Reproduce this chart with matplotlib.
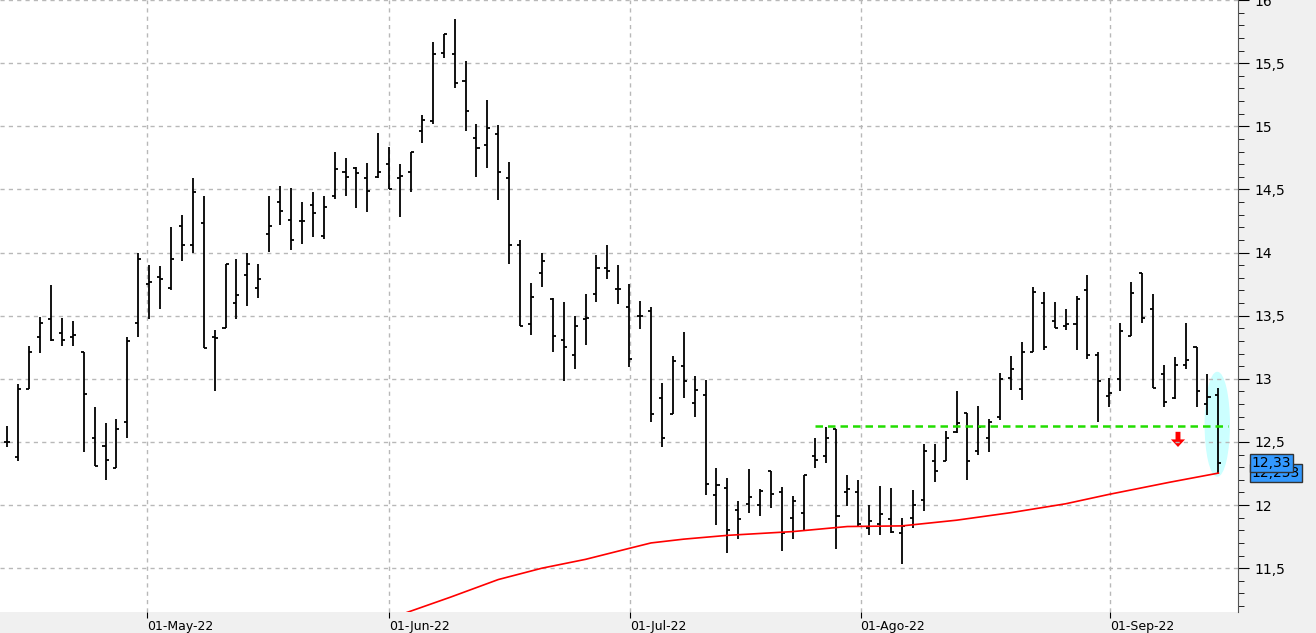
import matplotlib.pyplot as plt
from matplotlib.patches import Ellipse, FancyArrow
from matplotlib.ticker import FuncFormatter, MultipleLocator
import numpy as np

# daily OHLC bars
OPEN = [12.50, 12.38, 12.92, 13.33, 13.47, 13.36, 13.33, 13.21, 12.53, 12.47,
        12.29, 12.66, 13.44, 13.75, 13.81, 13.72, 14.21, 14.06, 14.23, 13.33,
        13.40, 13.60, 13.82, 13.72, 14.15, 14.40, 14.26, 14.25, 14.38, 14.13,
        14.45, 14.64, 14.67, 14.59, 14.595, 14.70, 14.59, 14.64, 14.96, 15.04,
        15.58, 15.57, 15.36, 14.91, 14.85, 14.935, 14.59, 14.06, 13.43, 13.84,
        13.63, 13.31, 13.185, 13.47, 13.67, 13.875, 13.71, 13.565, 13.50, 13.54,
        12.85, 12.725, 13.10, 12.805, 12.875, 12.08, 12.135, 11.96, 12.005, 12.00,
        12.27, 12.10, 11.90, 11.94, 12.39, 12.385, 12.60, 12.10, 12.10, 11.82,
        11.85, 11.89, 11.775, 11.90, 12.04, 12.345, 12.345, 12.575, 12.73, 12.43,
        12.53, 12.70, 13.005, 12.92, 13.215, 13.60, 13.455, 13.415, 13.43, 13.70,
        13.19, 12.865, 13.00, 13.34, 13.835, 13.55, 13.035, 12.845, 13.11, 13.25,
        12.80, 12.875]
HIGH = [12.625, 12.956, 13.259, 13.49, 13.74, 13.48, 13.46, 13.21, 12.78, 12.65,
        12.68, 13.33, 14.00, 13.90, 13.89, 14.20, 14.30, 14.59, 14.45, 13.39,
        13.91, 13.95, 14.00, 13.91, 14.45, 14.53, 14.51, 14.40, 14.48, 14.45,
        14.795, 14.75, 14.68, 14.71, 14.945, 14.835, 14.70, 14.80, 15.09, 15.67,
        15.73, 15.85, 15.52, 15.02, 15.21, 15.01, 14.715, 14.10, 13.76, 14.00,
        13.64, 13.61, 13.50, 13.67, 13.98, 14.06, 13.90, 13.75, 13.62, 13.57,
        12.97, 13.18, 13.37, 13.02, 12.99, 12.29, 12.215, 12.03, 12.285, 12.13,
        12.27, 12.14, 12.07, 12.24, 12.53, 12.62, 12.60, 12.24, 12.20, 12.00,
        12.15, 12.135, 11.90, 12.12, 12.485, 12.485, 12.59, 12.90, 12.73, 12.785,
        12.68, 13.045, 13.18, 13.29, 13.73, 13.69, 13.61, 13.55, 13.655, 13.82,
        13.215, 13.005, 13.44, 13.765, 13.84, 13.67, 13.11, 13.17, 13.445, 13.25,
        13.035, 12.93]
LOW = [12.457, 12.351, 12.92, 13.206, 13.30, 13.26, 13.26, 12.42, 12.31, 12.20,
       12.29, 12.53, 13.33, 13.47, 13.55, 13.70, 13.93, 14.00, 13.245, 12.905,
       13.40, 13.475, 13.58, 13.64, 14.005, 14.22, 14.02, 14.07, 14.12, 14.11,
       14.425, 14.45, 14.355, 14.32, 14.59, 14.50, 14.28, 14.48, 14.87, 15.02,
       15.54, 15.30, 14.96, 14.60, 14.67, 14.415, 13.91, 13.42, 13.35, 13.73,
       13.21, 12.985, 13.08, 13.27, 13.61, 13.79, 13.59, 13.09, 13.395, 12.66,
       12.457, 12.725, 12.85, 12.70, 12.08, 11.84, 11.62, 11.735, 11.94, 11.91,
       11.98, 11.64, 11.73, 11.80, 12.29, 12.335, 11.65, 11.99, 11.83, 11.76,
       11.76, 11.775, 11.53, 11.82, 11.95, 12.18, 12.345, 12.57, 12.20, 12.40,
       12.42, 12.675, 12.91, 12.83, 13.215, 13.23, 13.405, 13.39, 13.225, 13.16,
       12.66, 12.78, 12.90, 13.34, 13.44, 12.93, 12.78, 12.84, 13.08, 12.78,
       12.71, 12.25]
CLOSE = [12.50, 12.916, 13.21, 13.44, 13.31, 13.31, 13.35, 12.88, 12.31, 12.36,
         12.60, 13.30, 13.95, 13.77, 13.79, 13.95, 14.06, 14.48, 13.245, 13.32,
         13.91, 13.66, 13.91, 13.79, 14.21, 14.33, 14.10, 14.25, 14.31, 14.36,
         14.665, 14.60, 14.63, 14.49, 14.64, 14.50, 14.605, 14.80, 15.05, 15.57,
         15.73, 15.34, 15.12, 14.83, 14.985, 14.64, 14.06, 13.42, 13.65, 13.93,
         13.335, 13.255, 13.42, 13.48, 13.875, 13.85, 13.715, 13.16, 13.50, 12.72,
         12.535, 13.14, 12.98, 12.91, 12.17, 12.155, 11.80, 11.89, 12.065, 12.11,
         12.09, 11.775, 12.03, 12.24, 12.36, 12.53, 11.91, 12.13, 11.85, 11.87,
         11.93, 11.785, 11.835, 12.00, 12.425, 12.27, 12.53, 12.65, 12.345, 12.615,
         12.66, 13.00, 13.08, 13.21, 13.69, 13.255, 13.405, 13.43, 13.63, 13.19,
         12.985, 12.885, 13.38, 13.68, 13.48, 12.93, 12.82, 13.11, 13.15, 12.90,
         12.855, 12.33]

# moving average (red line), vertices
MA_IDX = [35, 40.6, 45, 49, 53, 57, 59, 62, 66, 72, 77, 82, 87, 92, 97, 101,
          106.5, 111]
MA_VAL = [11.10, 11.27, 11.41, 11.50, 11.57, 11.657, 11.70, 11.73, 11.76,
          11.79, 11.83, 11.835, 11.88, 11.94, 12.01, 12.085, 12.18, 12.253]

RESIST = 12.63
MONTH_POS = [12.8, 35.0, 57.1, 78.2, 101.1]
MONTH_LAB = ["01-May-22", "01-Jun-22", "01-Jul-22", "01-Ago-22", "01-Sep-22"]

fig = plt.figure(figsize=(13.16, 6.33), dpi=100)
fig.patch.set_facecolor("#f0f0f0")
ax = fig.add_axes([0, 21 / 633, 1238 / 1316, 612 / 633])
ax.set_facecolor("white")

idx = np.arange(len(OPEN))
w = 0.28
ax.vlines(idx, LOW, HIGH, color="black", lw=1.3)
ax.hlines(OPEN, idx - w, idx, color="black", lw=1.3)
ax.hlines(CLOSE, idx, idx + w, color="black", lw=1.3)

ax.plot(MA_IDX, MA_VAL, color="red", lw=1.2)
ax.plot([74, 111.9], [RESIST, RESIST], color="#22dd00", lw=1.8, ls=(0, (3, 2)))
ax.add_patch(Ellipse((idx[-1] - 0.1, 12.64), 2.2, 0.82, color="#ccffff", zorder=0))
ax.add_patch(FancyArrow(107.3, 12.58, 0, -0.06, width=0.45, head_width=1.3,
                        head_length=0.06, color="red", lw=0))

ax.set_xlim(-0.67, 112.8)
ax.set_ylim(11.153, 16.0)
ax.yaxis.tick_right()
ax.yaxis.set_major_locator(MultipleLocator(0.5))
ax.yaxis.set_minor_locator(MultipleLocator(0.1))
ax.yaxis.set_major_formatter(
    FuncFormatter(lambda v, _: f"{v:g}".replace(".", ",")))
ax.tick_params(axis="y", which="major", length=8, labelsize=10, direction="out")
ax.tick_params(axis="y", which="minor", length=4)
ax.set_xticks(MONTH_POS)
ax.set_xticklabels(MONTH_LAB, ha="left", fontsize=9)
ax.tick_params(axis="x", length=4, pad=2)
ax.grid(True, color="#b8b8b8", ls=(0, (3, 3)), lw=1)
for s in ("top", "left", "bottom"):
    ax.spines[s].set_visible(False)
ax.spines["right"].set_color("#555555")

# last price labels
for val, txt in ((12.253, "12,253"), (12.33, "12,33")):
    ax.annotate(txt, xy=(1, val), xycoords=("axes fraction", "data"),
                xytext=(10, 0), textcoords="offset points", va="center",
                fontsize=10, annotation_clip=False,
                bbox=dict(boxstyle="square,pad=0.15", fc="#3399ff", ec="#333333"))

fig.savefig("out.png", dpi=100)
